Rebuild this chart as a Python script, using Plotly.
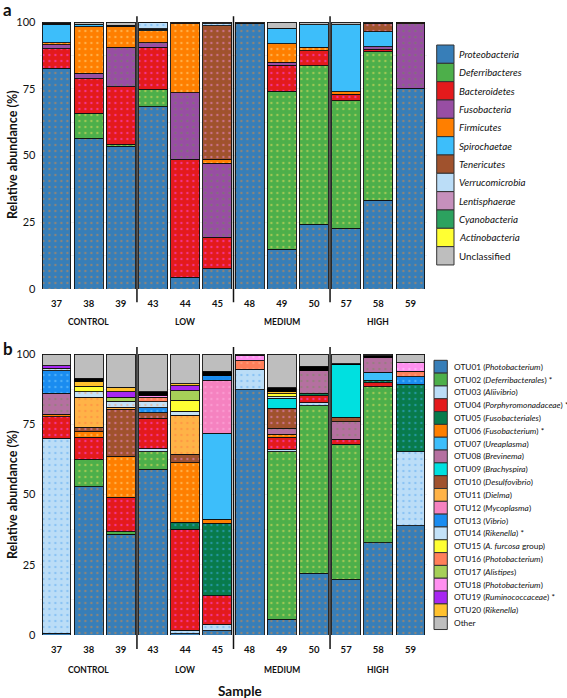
import plotly.graph_objects as go

W, H = 567, 698

samples = ["37", "38", "39", "43", "44", "45", "48", "49", "50", "57", "58", "59"]
groups = ["CONTROL", "LOW", "MEDIUM", "HIGH"]
group_sizes = [3, 3, 3, 3]
y_ticks = [0, 25, 50, 75, 100]

# ---------------- Panel a: phylum level ----------------
phyla = ["Proteobacteria", "Deferribacteres", "Bacteroidetes", "Fusobacteria", "Firmicutes",
         "Spirochaetae", "Tenericutes", "Verrucomicrobia", "Lentisphaerae", "Cyanobacteria",
         "Actinobacteria", "Unclassified"]
phyla_colors = ["#377EB8", "#4DAF4A", "#E41A1C", "#984EA3", "#FF7F00", "#3DBEFA", "#A0522D",
                "#BBDDF7", "#C690BC", "#2CA25F", "#FFFF33", "#BEBEBE"]
proteobacteria = [82.7, 56.4, 53.5, 68.3, 4.4, 7.5, 99.4, 14.9, 24.2, 22.8, 33.3, 75.2]
deferribacteres = [0, 9.4, 0.7, 6.5, 0, 0, 0, 59.1, 59.4, 47.7, 55.6, 0]
bacteroidetes = [7.3, 13.0, 21.6, 15.7, 44.2, 11.9, 0.2, 9.8, 5.7, 2.4, 0.9, 0]
fusobacteria = [1.5, 2.0, 14.7, 1.8, 24.9, 27.7, 0, 1.2, 0, 0, 1.0, 24.1]
firmicutes = [0.8, 17.4, 7.7, 4.4, 25.8, 1.5, 0, 6.8, 1.2, 1.0, 0, 0]
spirochaetae = [6.8, 0.7, 0.3, 0.5, 0, 0, 0, 5.7, 8.5, 25.1, 5.6, 0]
tenericutes = [0.5, 0.3, 0.2, 0.3, 0.7, 50.0, 0, 0, 0, 0, 3.1, 0.7]
verrucomicrobia = [0, 0, 0, 2.4, 0, 0.8, 0, 0.2, 0, 0, 0, 0]
lentisphaerae = [0] * 12
cyanobacteria = [0] * 12
actinobacteria = [0] * 12
unclassified = [0.4, 0.8, 1.3, 0.1, 0, 0.6, 0.4, 2.3, 1.0, 1.0, 0.5, 0]
phyla_values = [proteobacteria, deferribacteres, bacteroidetes, fusobacteria, firmicutes,
                spirochaetae, tenericutes, verrucomicrobia, lentisphaerae, cyanobacteria,
                actinobacteria, unclassified]
phyla_dots = ["#E08A3C", "#F0E060", "#FF50FF", "#6E8A55", "#FFE090", None, "#F090E0",
              "#5AA8F0", None, None, None, None]

# ---------------- Panel b: OTU level ----------------
otu_labels = ["OTU01 (<i>Photobacterium</i>)", "OTU02 (<i>Deferribacterales</i>) *",
              "OTU03 (<i>Aliivibrio</i>)", "OTU04 (<i>Porphyromonadaceae</i>) *",
              "OTU05 (<i>Fusobacteriales</i>)", "OTU06 (<i>Fusobacterium</i>) *",
              "OTU07 (<i>Ureaplasma</i>)", "OTU08 (<i>Brevinema</i>)", "OTU09 (<i>Brachyspira</i>)",
              "OTU10 (<i>Desulfovibrio</i>)", "OTU11 (<i>Dielma</i>)", "OTU12 (<i>Mycoplasma</i>)",
              "OTU13 (<i>Vibrio</i>)", "OTU14 (<i>Rikenella</i>) *", "OTU15 (<i>A. furcosa</i> group)",
              "OTU16 (<i>Photobacterium</i>)", "OTU17 (<i>Alistipes</i>)", "OTU18 (<i>Photobacterium</i>)",
              "OTU19 (<i>Ruminococcaceae</i>) *", "OTU20 (<i>Rikenella</i>)", "Other"]
otu_colors = ["#377EB8", "#4DAF4A", "#BBDDF7", "#E41A1C", "#087B4C", "#FF7F00", "#3DBEFA",
              "#B570A0", "#00E0E0", "#A0522D", "#FFB347", "#F582C0", "#1A8CF0", "#C4E2F8",
              "#FFFF33", "#FF7F5A", "#A6CF58", "#FF90F0", "#A727F2", "#FFC12E", "#BEBEBE"]
otu01 = [0.6, 52.8, 35.9, 59.0, 0.5, 1.5, 87.2, 5.6, 22.0, 19.8, 32.8, 38.9]
otu02 = [0, 9.7, 0.8, 6.2, 0, 0, 0, 59.6, 59.6, 48.0, 55.6, 0]
otu03 = [69.4, 0, 0, 1.1, 1.2, 2.4, 7.4, 0.8, 1.1, 0, 0, 26.3]
otu04 = [7.7, 7.8, 12.3, 10.8, 35.9, 10.0, 0, 4.3, 2.4, 1.8, 1.4, 0]
otu05 = [0, 0, 0, 0, 2.5, 25.8, 0, 0, 0.9, 0, 0.9, 23.8]
otu06 = [0.9, 2.0, 14.7, 0, 21.2, 1.5, 0, 1.2, 0, 0, 0, 0]
otu07 = [0, 0, 0, 0, 0, 30.6, 0, 0, 0, 0, 2.8, 0]
otu08 = [7.4, 0, 0, 0, 0, 0, 0, 2.0, 8.1, 6.3, 5.3, 0]
otu09 = [0, 0, 0, 0, 0, 0, 0, 3.5, 0, 18.6, 0, 0]
otu10 = [0, 1.6, 16.6, 2.0, 3.0, 0, 0, 7.2, 0, 1.6, 0, 0]
otu11 = [0, 10.7, 0.8, 0, 13.9, 0, 0, 0, 0, 0, 0, 0]
otu12 = [0, 0, 0, 0, 0, 18.9, 0, 0, 0, 0, 0, 0]
otu13 = [8.1, 0, 0, 1.8, 0, 1.5, 0, 0, 0, 0, 0, 2.9]
otu14 = [0.8, 2.0, 2.1, 2.1, 1.5, 0, 0, 0.6, 0, 0, 0, 0]
otu15 = [0, 2.0, 0, 0, 3.9, 0, 0, 1.0, 0, 0, 0, 0]
otu16 = [0, 0, 0, 1.6, 0, 0, 3.0, 0, 0, 0, 0, 2.0]
otu17 = [0, 0, 1.4, 0, 3.3, 0, 0, 0, 0, 0, 0, 0]
otu18 = [0, 0, 0, 0.8, 0, 0, 2.0, 0, 0, 0, 0, 3.0]
otu19 = [1.0, 0, 2.0, 0, 1.8, 0, 0, 0, 0, 0, 0, 0]
otu20 = [0, 1.7, 1.6, 0, 0.8, 0, 0, 0.8, 0, 0, 0, 0]
minor_otus = [0, 1.0, 0, 1.2, 0, 1.7, 0, 1.4, 1.6, 0.5, 0.5, 0]
other = [4.1, 8.7, 11.8, 13.4, 10.5, 6.1, 0.4, 12.0, 4.3, 3.4, 0.7, 3.1]
otu_values = [otu01, otu02, otu03, otu04, otu05, otu06, otu07, otu08, otu09, otu10,
              otu11, otu12, otu13, otu14, otu15, otu16, otu17, otu18, otu19, otu20, other]
otu_dots = ["#E08A3C", "#F0E060", "#5AA8F0", "#FF50FF", "#40B0F0", "#FFE090", None, "#7A8A60",
            None, "#F090E0", "#FF8040", "#FFB0E0", "#80D0FF", "#F0A070", None, "#FFB090",
            None, "#FFD0FF", None, None, None]
# stacking order (bottom -> top): legend order, but OTU10 sits below OTU09, minor OTUs before Other
stack_order = [0, 1, 2, 3, 4, 5, 6, 7, 9, 8, 10, 11, 12, 13, 14, 15, 16, 17, 18, 19, "minor", 20]

FONT = "Lato"
fig = go.Figure()


def clean(vals):
    return [v if v else None for v in vals]


def pattern(dot):
    if dot is None:
        return dict(shape="")
    return dict(shape=".", fgcolor=dot, size=6, solidity=0.12)


for name, col, vals, dot in zip(phyla, phyla_colors, phyla_values, phyla_dots):
    fig.add_trace(go.Bar(x=samples, y=clean(vals), name=name, marker=dict(
        color=col, line=dict(color="#111111", width=0.9), pattern=pattern(dot)),
        xaxis="x", yaxis="y", showlegend=False, width=0.9))

for k in stack_order:
    if k == "minor":
        fig.add_trace(go.Bar(x=samples, y=clean(minor_otus), name="minor OTUs",
                             marker=dict(color="#000000", line=dict(color="#000000", width=0.9)),
                             xaxis="x2", yaxis="y2", showlegend=False, width=0.9))
        continue
    fig.add_trace(go.Bar(x=samples, y=clean(otu_values[k]), name=otu_labels[k], marker=dict(
        color=otu_colors[k], line=dict(color="#111111", width=0.9), pattern=pattern(otu_dots[k])),
        xaxis="x2", yaxis="y2", showlegend=False, width=0.9))


def px(x):
    return x / W


def py(y):
    return 1 - y / H


xdom = [px(40.4), px(426.6)]
ydom_a = [py(289), py(22)]
ydom_b = [py(635), py(354)]

axis_common = dict(type="category", categoryorder="array", categoryarray=samples,
                   range=[-0.5, len(samples) - 0.5], tickvals=samples,
                   ticktext=["<b>%s</b>" % s for s in samples], ticks="", showgrid=False,
                   showline=False, zeroline=False, ticklabelstandoff=7,
                   tickfont=dict(family=FONT, size=9.5, color="#111111"))
yaxis_common = dict(range=[0, 100], tickvals=y_ticks, ticks="", showline=False, zeroline=False,
                    showgrid=True, gridcolor="#f0f0f0", gridwidth=1,
                    minor=dict(dtick=12.5, showgrid=True, gridcolor="#f0f0f0"),
                    tickfont=dict(family=FONT, size=11, color="#111111"), ticklabelstandoff=4)

fig.update_layout(
    width=W, height=H, margin=dict(l=0, r=0, t=0, b=0, autoexpand=False),
    plot_bgcolor="white", paper_bgcolor="white", barmode="stack", bargap=0.1,
    font=dict(family=FONT, color="#111111"),
    xaxis=dict(domain=xdom, anchor="y", **axis_common),
    yaxis=dict(domain=ydom_a, anchor="x", **yaxis_common),
    xaxis2=dict(domain=xdom, anchor="y2", **axis_common),
    yaxis2=dict(domain=ydom_b, anchor="x2", **yaxis_common),
    showlegend=False,
)

shapes = []
annotations = []

# group separators and group labels
bounds = []
acc = 0
for gsize in group_sizes[:-1]:
    acc += gsize
    bounds.append(acc - 0.5)
for b in bounds:
    shapes.append(dict(type="line", xref="x", yref="y domain", x0=b, x1=b, y0=-0.05, y1=1.022,
                       line=dict(color="#111111", width=1.5)))
    shapes.append(dict(type="line", xref="x2", yref="y2 domain", x0=b, x1=b, y0=-0.05, y1=1.025,
                       line=dict(color="#111111", width=1.5)))
start = 0
for g, gsize in zip(groups, group_sizes):
    centre = start + (gsize - 1) / 2
    start += gsize
    for xr, ypix in (("x", 322), ("x2", 670)):
        annotations.append(dict(text="<b>%s</b>" % g, x=centre, xref=xr, y=py(ypix), yref="paper",
                                showarrow=False, xanchor="center", yanchor="middle",
                                font=dict(family=FONT, size=8.5, color="#111111")))

# axis titles and panel letters
for ycen in (155, 495):
    annotations.append(dict(text="<b>Relative abundance (%)</b>", x=px(12), y=py(ycen), xref="paper",
                            yref="paper", showarrow=False, textangle=-90, xanchor="center",
                            yanchor="middle", font=dict(family=FONT, size=12.5, color="#111111")))
annotations.append(dict(text="<b>Sample</b>", x=px(240), y=py(691), xref="paper", yref="paper",
                        showarrow=False, xanchor="center", yanchor="middle",
                        font=dict(family=FONT, size=13.5, color="#111111")))
for letter, ypix in (("a", 10), ("b", 348)):
    annotations.append(dict(text="<b>%s</b>" % letter, x=px(2), y=py(ypix), xref="paper", yref="paper",
                            showarrow=False, xanchor="left", yanchor="middle", borderpad=0,
                            font=dict(family=FONT, size=17, color="#111111")))

# legend a (custom)
la_x0, la_x1, la_top, la_step = 436.7, 454.0, 45.0, 18.33
for i, (name, col) in enumerate(zip(phyla, phyla_colors)):
    y0 = la_top + i * la_step
    shapes.append(dict(type="rect", xref="paper", yref="paper", x0=px(la_x0), x1=px(la_x1),
                       y0=py(y0), y1=py(y0 + la_step), fillcolor=col,
                       line=dict(color="#333333", width=1)))
    label = name if name == "Unclassified" else "<i>%s</i>" % name
    annotations.append(dict(text=label, x=px(456.5), y=py(y0 + la_step / 2), xref="paper", yref="paper",
                            showarrow=False, xanchor="left", yanchor="middle",
                            font=dict(family=FONT, size=9.8, color="#111111")))

# legend b (custom)
lb_x0, lb_x1, lb_top, lb_step = 434.0, 447.3, 360.3, 12.82
for i, (name, col) in enumerate(zip(otu_labels, otu_colors)):
    y0 = lb_top + i * lb_step
    shapes.append(dict(type="rect", xref="paper", yref="paper", x0=px(lb_x0), x1=px(lb_x1),
                       y0=py(y0), y1=py(y0 + lb_step), fillcolor=col,
                       line=dict(color="#333333", width=1)))
    annotations.append(dict(text=name, x=px(451.5), y=py(y0 + lb_step / 2), xref="paper", yref="paper",
                            showarrow=False, xanchor="left", yanchor="middle",
                            font=dict(family=FONT, size=8.3, color="#111111")))

fig.update_layout(shapes=shapes, annotations=annotations)
fig.write_html("out.html", config={"displayModeBar": False},
               post_script="document.body.style.margin='0px';")
